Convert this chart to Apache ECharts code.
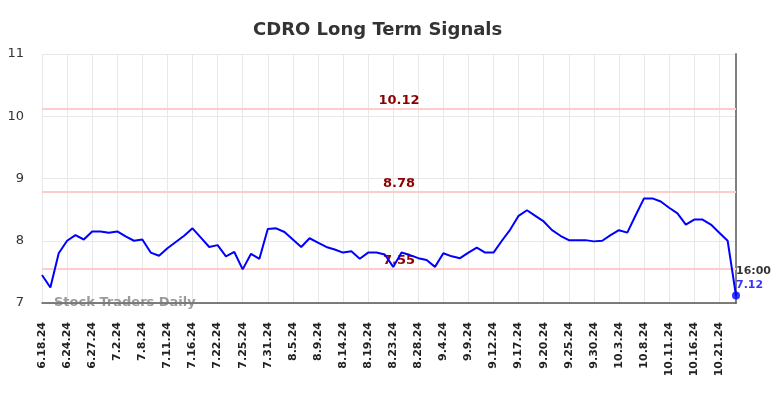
<!DOCTYPE html>
<html>
<head>
<meta charset="utf-8">
<title>CDRO Long Term Signals</title>
<script src="https://cdn.jsdelivr.net/npm/echarts@6/dist/echarts.min.js"></script>
<style>
    html, body { margin: 0; padding: 0; background: #fff; }
    #chart { width: 784px; height: 398px; }
</style>
</head>
<body>
<div id="chart"></div>
<script>
// trading days shown on the x axis
var dates = [
    '6.18.24', '6.20.24', '6.21.24', '6.24.24', '6.25.24', '6.26.24', '6.27.24', '6.28.24',
    '7.1.24', '7.2.24', '7.3.24', '7.5.24', '7.8.24', '7.9.24', '7.10.24', '7.11.24',
    '7.12.24', '7.15.24', '7.16.24', '7.17.24', '7.18.24', '7.22.24', '7.23.24', '7.24.24',
    '7.25.24', '7.26.24', '7.29.24', '7.31.24', '8.1.24', '8.2.24', '8.5.24', '8.6.24',
    '8.7.24', '8.9.24', '8.12.24', '8.13.24', '8.14.24', '8.15.24', '8.16.24', '8.19.24',
    '8.20.24', '8.21.24', '8.23.24', '8.26.24', '8.27.24', '8.28.24', '8.29.24', '8.30.24',
    '9.4.24', '9.5.24', '9.6.24', '9.9.24', '9.10.24', '9.11.24', '9.12.24', '9.13.24',
    '9.16.24', '9.17.24', '9.18.24', '9.19.24', '9.20.24', '9.23.24', '9.24.24', '9.25.24',
    '9.26.24', '9.27.24', '9.30.24', '10.1.24', '10.2.24', '10.3.24', '10.4.24', '10.7.24',
    '10.8.24', '10.9.24', '10.10.24', '10.11.24', '10.14.24', '10.15.24', '10.16.24', '10.17.24',
    '10.18.24', '10.21.24', '10.22.24', '10.24.24'
];

// closing prices
var prices = [
    7.45, 7.25, 7.80, 8.00, 8.09, 8.02, 8.15, 8.15,
    8.13, 8.15, 8.07, 8.00, 8.02, 7.81, 7.76, 7.88,
    7.98, 8.08, 8.20, 8.05, 7.90, 7.93, 7.75, 7.82,
    7.54, 7.79, 7.71, 8.19, 8.20, 8.14, 8.02, 7.90,
    8.04, 7.97, 7.90, 7.86, 7.81, 7.83, 7.71, 7.81,
    7.81, 7.78, 7.58, 7.81, 7.77, 7.72, 7.69, 7.58,
    7.80, 7.75, 7.72, 7.81, 7.89, 7.81, 7.81, 8.00,
    8.18, 8.40, 8.49, 8.40, 8.31, 8.17, 8.08, 8.01,
    8.01, 8.01, 7.99, 8.00, 8.09, 8.17, 8.13, 8.41,
    8.68, 8.68, 8.63, 8.53, 8.44, 8.26, 8.34, 8.34,
    8.26, 8.13, 8.00, 7.12
];

// signal levels (horizontal lines)
var signalLevels = [10.12, 8.78, 7.55];

var yTicks = [7, 8, 9, 10, 11];
var lastTime = '16:00';

var FONT = 'DejaVu Sans';
var lastIndex = prices.length - 1;

var chart = echarts.init(document.getElementById('chart'), null, { renderer: 'canvas' });

chart.setOption({
    animation: false,
    backgroundColor: '#ffffff',
    title: {
        text: 'CDRO Long Term Signals',
        left: 248,
        top: 16,
        textStyle: { fontFamily: FONT, fontSize: 18, fontWeight: 'bold', color: '#333333' }
    },
    grid: { left: 42, right: 48, top: 54, bottom: 95 },
    graphic: [{
        type: 'text',
        left: 54,
        top: 296,
        z: 1,
        style: {
            text: 'Stock Traders Daily',
            fontFamily: FONT,
            fontSize: 13,
            fontWeight: 'bold',
            fill: 'rgba(120,120,120,0.75)'
        }
    }],
    xAxis: {
        type: 'category',
        data: dates,
        boundaryGap: false,
        axisLine: { show: true, lineStyle: { color: '#555555', width: 1.5 } },
        axisTick: { show: false },
        axisLabel: {
            interval: 2,
            rotate: 90,
            margin: 19,
            fontFamily: FONT,
            fontSize: 11,
            fontWeight: 'bold',
            color: '#222222'
        },
        splitLine: { show: true, interval: 2, lineStyle: { color: '#e8e8e8', width: 1 } }
    },
    yAxis: [{
        type: 'value',
        min: yTicks[0],
        max: yTicks[yTicks.length - 1],
        interval: 1,
        axisLine: { show: false },
        axisTick: { show: false },
        axisLabel: { margin: 18, fontFamily: FONT, fontSize: 13, color: '#333333' },
        splitLine: { show: true, lineStyle: { color: '#e8e8e8', width: 1 } }
    }, {
        type: 'value',
        position: 'right',
        min: yTicks[0],
        max: yTicks[yTicks.length - 1],
        axisLine: { show: true, lineStyle: { color: '#808080', width: 2 } },
        axisTick: { show: false },
        axisLabel: { show: false },
        splitLine: { show: false }
    }],
    series: [{
        type: 'line',
        data: prices,
        showSymbol: false,
        z: 3,
        lineStyle: { color: '#0000ff', width: 2 },
        markLine: {
            silent: true,
            symbol: 'none',
            z: 2,
            lineStyle: { color: '#ffcccc', width: 2, type: 'solid' },
            label: {
                position: 'middle',
                offset: [10, 3],
                fontFamily: FONT,
                fontSize: 13,
                fontWeight: 'bold',
                color: '#8b0000',
                formatter: function (p) { return p.value.toFixed(2); }
            },
            data: signalLevels.map(function (v) { return { yAxis: v }; })
        }
    }, {
        type: 'scatter',
        data: [[lastIndex, prices[lastIndex]]],
        symbolSize: 8,
        z: 4,
        itemStyle: { color: '#0000ff' },
        label: {
            show: true,
            position: 'right',
            offset: [-9, -17],
            fontFamily: FONT,
            fontSize: 11,
            fontWeight: 'bold',
            lineHeight: 14,
            formatter: function (p) { return '{t|' + lastTime + '}\n{v|' + p.value[1].toFixed(2) + '}'; },
            rich: {
                t: { color: '#000000', fontFamily: FONT, fontSize: 11, fontWeight: 'bold', lineHeight: 14 },
                v: { color: '#0000ff', fontFamily: FONT, fontSize: 11, fontWeight: 'bold', lineHeight: 14 }
            }
        }
    }]
});
</script>
</body>
</html>
